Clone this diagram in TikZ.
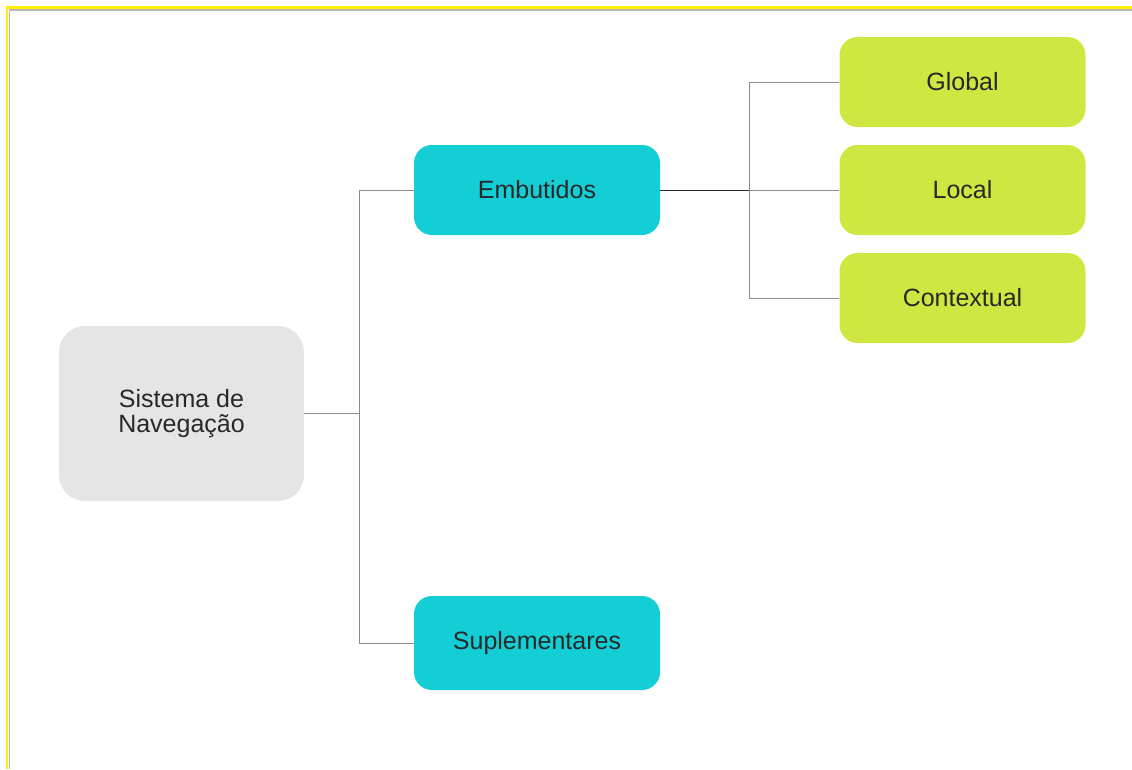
\documentclass[tikz,border=0pt]{standalone}
\usepackage{xcolor}
\usepackage{fontspec}
\setmainfont{Liberation Sans}
\usepackage{tikz}
\definecolor{rootgray}{RGB}{229, 229, 229}
\definecolor{navcyan}{RGB}{20, 206, 214}
\definecolor{navlime}{RGB}{209, 231, 65}
\definecolor{framegold}{RGB}{255, 240, 0}
\definecolor{linegray}{RGB}{140, 140, 140}
\definecolor{textdark}{RGB}{40, 40, 40}

\tikzset{
    navbox/.style={rounded corners=18pt, minimum width=246pt, minimum height=90pt, inner sep=0pt,
        text=textdark, align=center, font=\fontsize{25}{25}\selectfont},
    link/.style={draw=linegray, line width=1pt}
}

\begin{document}
\begin{tikzpicture}[x=1pt, y=-1pt]
    \useasboundingbox (0,0) rectangle (1132,769);
    % frame
    \draw[rootgray!80!black, line width=1.5pt] (9.5,769) -- (9.5,10) -- (1132,10);
    \draw[framegold, line width=2.5pt] (7,769) -- (7,7.5) -- (1132,7.5);

    \node[navbox, fill=rootgray, minimum width=245pt, minimum height=175pt, rounded corners=26pt] (root) at (181.5,413.5) {Sistema de\\Navegação};
    \node[navbox, fill=navcyan] (embutidos) at (537,190) {Embutidos};
    \node[navbox, fill=navcyan, minimum height=94pt] (suplementares) at (537,643) {Suplementares};
    \node[navbox, fill=navlime] (global) at (962.5,82) {Global};
    \node[navbox, fill=navlime] (local) at (962.5,190) {Local};
    \node[navbox, fill=navlime] (contextual) at (962.5,298) {Contextual};

    \coordinate (fork1) at (359,413.5);
    \coordinate (fork2) at (749,190);

    \draw[link] (root.east) -- (fork1);
    \draw[link] (embutidos.west) -| (fork1);
    \draw[link] (suplementares.west) -| (fork1);
    \draw[link, draw=textdark] (embutidos.east) -- (fork2);
    \draw[link] (global.west) -| (fork2) |- (contextual.west);
    \draw[link] (fork2) -- (local.west);
\end{tikzpicture}
\end{document}
